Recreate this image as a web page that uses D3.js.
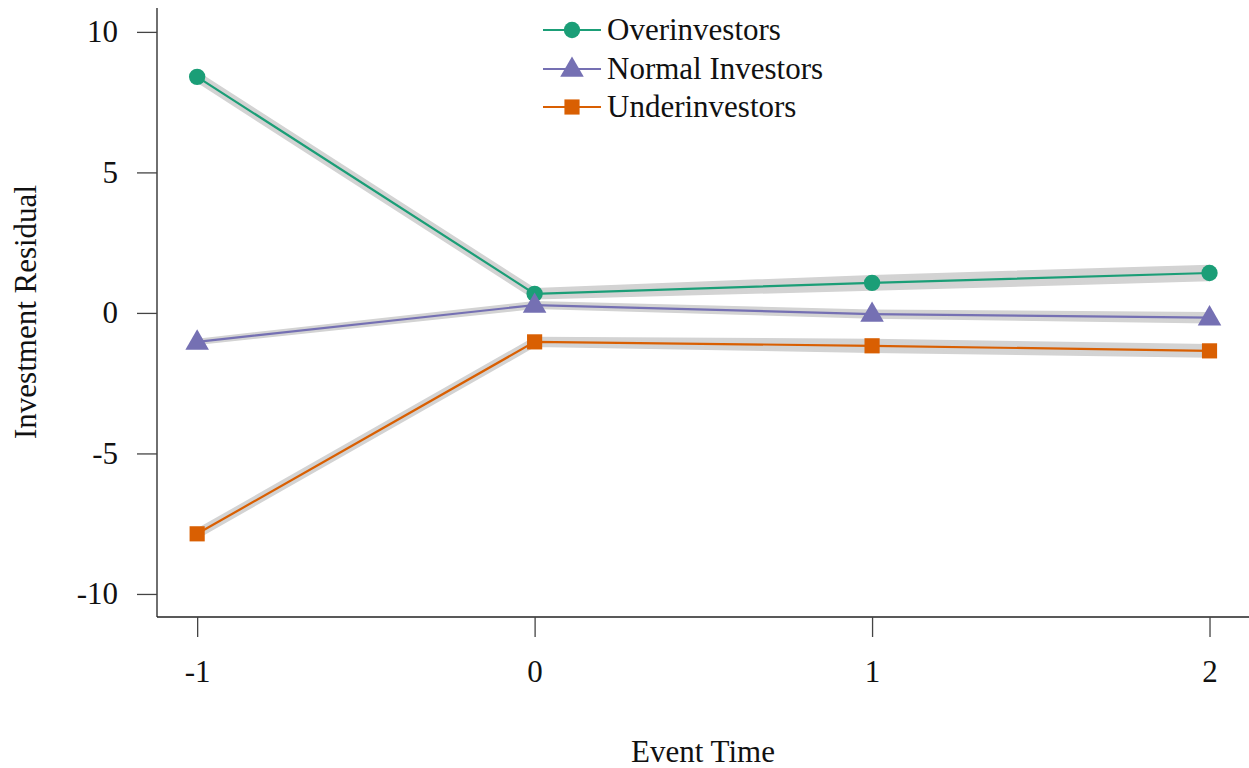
<!DOCTYPE html>
<html><head><meta charset="utf-8">
<script src="https://cdn.jsdelivr.net/npm/d3@7"></script>
<style>body{margin:0;background:#fff}svg{display:block}text{font-family:"Liberation Serif","Times New Roman",serif;fill:#111}</style>
</head><body>
<svg id="c" width="1249" height="768"></svg>
<script>
const eventTimes = [-1, 0, 1, 2];
const seriesNames = ["Overinvestors", "Normal Investors", "Underinvestors"];
const overValues = [8.40, 0.68, 1.07, 1.42];
const overCI = [0.15, 0.15, 0.23, 0.24];
const normalValues = [-1.03, 0.28, -0.04, -0.17];
const normalCI = [0.06, 0.09, 0.11, 0.15];
const underValues = [-7.86, -1.03, -1.17, -1.35];
const underCI = [0.13, 0.13, 0.2, 0.19];
const colors = ["#1b9e77", "#7570b3", "#d95f02"];
const symbols = [d3.symbolCircle, d3.symbolTriangle, d3.symbolSquare];
const symSizes = [210, 240, 230];
const yTicks = [-10, -5, 0, 5, 10];
const xTicks = [-1, 0, 1, 2];

const FS = "31px";
const fmt = d => String(d); // hyphen minus as in reference

const svg = d3.select("#c");
const x = d3.scaleLinear().domain([-1.119, 2.117]).range([157, 1249]);
const y = d3.scaleLinear().domain([-10.82, 10.85]).range([617, 8]);

const series = [
  {name: seriesNames[0], vals: overValues, ci: overCI},
  {name: seriesNames[1], vals: normalValues, ci: normalCI},
  {name: seriesNames[2], vals: underValues, ci: underCI}
];

const area = d3.area().x(d => x(d.t)).y0(d => y(d.v - d.c)).y1(d => y(d.v + d.c));
const line = d3.line().x(d => x(d.t)).y(d => y(d.v));
series.forEach((s, i) => {
  const pts = eventTimes.map((t, k) => ({t, v: s.vals[k], c: s.ci[k]}));
  svg.append("path").attr("d", area(pts)).attr("fill", "#d3d3d3").attr("stroke", "#d3d3d3").attr("stroke-width", 3).attr("stroke-linejoin", "round");
});
series.forEach((s, i) => {
  const pts = eventTimes.map((t, k) => ({t, v: s.vals[k]}));
  svg.append("path").attr("d", line(pts)).attr("fill", "none").attr("stroke", colors[i]).attr("stroke-width", 2.2);
});
series.forEach((s, i) => {
  eventTimes.forEach((t, k) => {
    svg.append("path").attr("d", d3.symbol().type(symbols[i]).size(symSizes[i])())
      .attr("transform", `translate(${x(t)},${y(s.vals[k]) + (i === 1 ? 1 : 0)})`).attr("fill", colors[i]);
  });
});

const yAxis = d3.axisLeft(y).tickValues(yTicks).tickSize(20).tickPadding(19).tickFormat(fmt);
const gy = svg.append("g").attr("transform", "translate(157,0)").call(yAxis);
gy.select(".domain").attr("d", "M0,8V617").attr("stroke", "#222").attr("stroke-width", 1.3);
gy.selectAll(".tick line").attr("stroke", "#444").attr("stroke-width", 1.3);
gy.selectAll("text").style("font-size", FS).style("font-family", "Liberation Serif").attr("fill", "#111");

const xAxis = d3.axisBottom(x).tickValues(xTicks).tickSize(20).tickPadding(23).tickFormat(fmt);
const gx = svg.append("g").attr("transform", "translate(0,617)").call(xAxis);
gx.select(".domain").attr("d", "M157,0H1249").attr("stroke", "#222").attr("stroke-width", 1.3);
gx.selectAll(".tick line").attr("stroke", "#444").attr("stroke-width", 1.3);
gx.selectAll("text").style("font-size", FS).style("font-family", "Liberation Serif").attr("fill", "#111");

svg.append("text").attr("x", 703).attr("y", 762).attr("text-anchor", "middle").style("font-size", FS).text("Event Time");
svg.append("text").attr("transform", "translate(36,312) rotate(-90)").attr("text-anchor", "middle").style("font-size", FS).text("Investment Residual");

const legY = [30, 69, 107];
series.forEach((s, i) => {
  const g = svg.append("g").attr("transform", `translate(0,${legY[i]})`);
  g.append("line").attr("x1", 543).attr("x2", 601).attr("y1", 0).attr("y2", 0).attr("stroke", colors[i]).attr("stroke-width", 2.2);
  g.append("path").attr("d", d3.symbol().type(symbols[i]).size(symSizes[i])()).attr("transform", `translate(572,${i === 1 ? 1 : 0})`).attr("fill", colors[i]);
  g.append("text").attr("x", 607).attr("y", 10).style("font-size", FS).text(s.name);
});
</script>
</body></html>
